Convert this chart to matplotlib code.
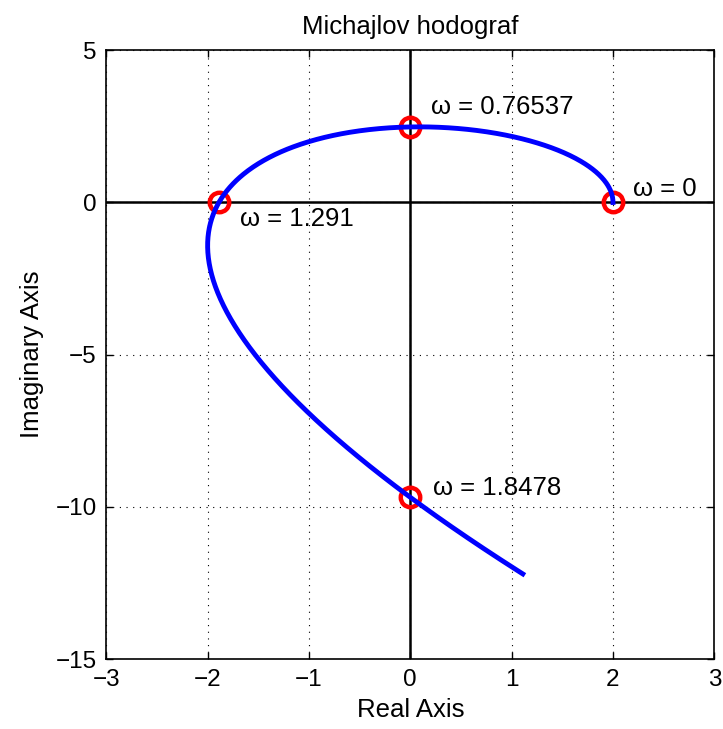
import numpy as np
import matplotlib
matplotlib.use("Agg")
import matplotlib.pyplot as plt

plt.rcParams['font.family'] = ['Liberation Sans', 'DejaVu Sans']

# characteristic polynomial coefficients (s^4 + 3 s^3 + 4 s^2 + 5 s + 2), read from crossings
coeffs = [1, 3, 4, 5, 2]
omega_max = 1.94
crossing_omegas = [0, 0.76537, 1.291, 1.8478]
crossing_labels = ['ω = 0', 'ω = 0.76537', 'ω = 1.291', 'ω = 1.8478']
label_offsets = [(0.2, 0.45), (0.2, 0.65), (0.21, -0.55), (0.22, 0.3)]

xticks = [-3, -2, -1, 0, 1, 2, 3]
yticks = [-15, -10, -5, 0, 5]

w = np.linspace(0, omega_max, 600)
P = np.polyval(coeffs, 1j * w)
Pc = np.polyval(coeffs, 1j * np.array(crossing_omegas))

fig = plt.figure(figsize=(7.23, 7.29), dpi=100)
ax = fig.add_axes([0.147, 0.096, 0.841, 0.835])

ax.axhline(0, color='black', lw=1.8, zorder=2)
ax.axvline(0, color='black', lw=1.8, zorder=2)
ax.plot(Pc.real, Pc.imag, 'o', ms=14, mfc='none', mec='red', mew=3.2, zorder=3)
ax.plot(P.real, P.imag, color='blue', lw=3.5, zorder=4)

for z, lab, (dx, dy) in zip(Pc, crossing_labels, label_offsets):
    ax.text(z.real + dx, z.imag + dy, lab, fontsize=18.5, ha='left', va='center')

ax.set_xlim(-3, 3)
ax.set_ylim(-15, 5)
ax.set_xticks(xticks)
ax.set_yticks(yticks)
ax.set_xticklabels([str(t).replace('-', '−') for t in xticks])
ax.set_yticklabels([str(t).replace('-', '−') for t in yticks])
ax.tick_params(direction='in', labelsize=17.5, length=5, width=1, top=True, right=True, pad=7)
ax.grid(True, linestyle=(0, (1, 5)), color='black', lw=0.8)
for s in ax.spines.values():
    s.set_linewidth(1.2)
ax.set_title('Michajlov hodograf', fontsize=18.5, pad=12)
ax.set_xlabel('Real Axis', fontsize=18.5, labelpad=5)
ax.set_ylabel('Imaginary Axis', fontsize=18.5, labelpad=8)

fig.savefig('out.png', dpi=100)
